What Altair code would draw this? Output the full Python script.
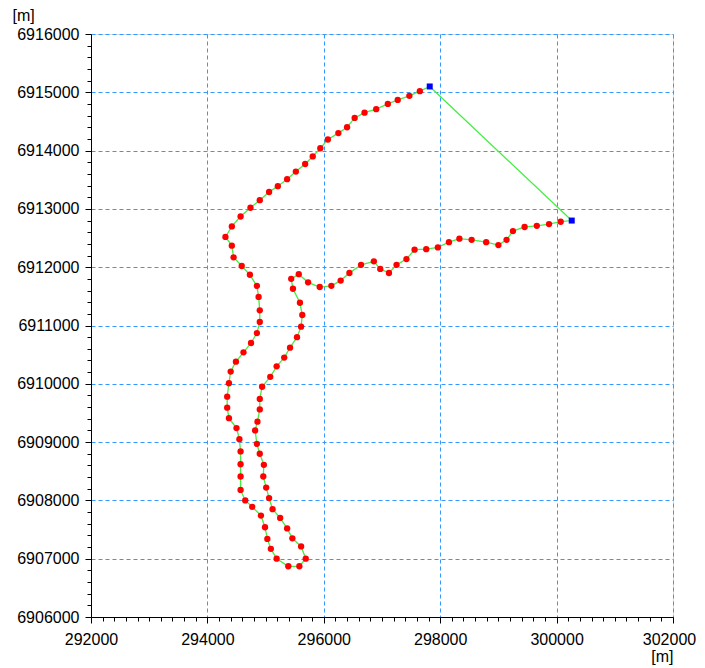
import altair as alt
import pandas as pd

xs = [297820, 297650, 297470, 297270, 297100, 296900, 296700, 296530, 296400, 296250,
      296070, 295940, 295810, 295680, 295520, 295370, 295210, 295060, 294900, 294740,
      294570, 294420, 294310, 294420, 294450, 294590, 294730, 294850, 294880, 294900,
      294900, 294850, 294750, 294620, 294490, 294400, 294370, 294340, 294340, 294370,
      294500, 294550, 294570, 294570, 294570, 294570, 294650, 294770, 294920, 294990,
      295030, 295090, 295190, 295390, 295580, 295690, 295610, 295460, 295370, 295250,
      295120, 295060, 295010, 294960, 294970, 294900, 294850, 294820, 294860, 294900,
      294900, 294940, 295080, 295190, 295320, 295420, 295540, 295610, 295630, 295590,
      295470, 295440, 295570, 295730, 295930, 296130, 296290, 296440, 296640, 296860,
      296970, 297120, 297250, 297420, 297560, 297760, 297960, 298150, 298330, 298540,
      298790, 299000, 299140, 299250, 299450, 299660, 299870, 300070, 300260]
ys = [6915100, 6915020, 6914940, 6914870, 6914800, 6914710, 6914650, 6914560, 6914400, 6914300,
      6914190, 6914040, 6913900, 6913770, 6913640, 6913510, 6913390, 6913290, 6913150, 6913020,
      6912870, 6912700, 6912520, 6912370, 6912170, 6912020, 6911870, 6911680, 6911490, 6911260,
      6911060, 6910870, 6910700, 6910540, 6910380, 6910210, 6910010, 6909780, 6909590, 6909410,
      6909240, 6909050, 6908840, 6908620, 6908410, 6908180, 6908000, 6907890, 6907740, 6907540,
      6907340, 6907170, 6907000, 6906870, 6906870, 6907000, 6907210, 6907350, 6907520, 6907700,
      6907850, 6908040, 6908220, 6908410, 6908610, 6908800, 6908970, 6909200, 6909350, 6909560,
      6909740, 6909950, 6910120, 6910300, 6910450, 6910620, 6910800, 6910980, 6911180, 6911390,
      6911630, 6911800, 6911880, 6911740, 6911660, 6911680, 6911770, 6911900, 6912040, 6912100,
      6911970, 6911900, 6912040, 6912140, 6912300, 6912310, 6912340, 6912430, 6912490, 6912470,
      6912430, 6912380, 6912470, 6912620, 6912690, 6912710, 6912740, 6912780, 6912800]

x_ticks = list(range(292000, 302001, 200))
y_ticks = list(range(6906000, 6916001, 200))

n = len(xs)
kinds = ["end" if i in (0, n - 1) else "mid" for i in range(n)]
pts = pd.DataFrame({"x": xs, "y": ys, "kind": kinds, "order": list(range(n))})
line_df = pd.concat([pts, pts.iloc[[0]].assign(order=n)], ignore_index=True)

FONT = "Liberation Sans"
FS = 16
W, H = 582, 583

xscale = alt.Scale(domain=[292000, 302000], nice=False, zero=False)
yscale = alt.Scale(domain=[6906000, 6916000], nice=False, zero=False)

xaxis = alt.Axis(
    values=x_ticks, tickCount=200, format="d",
    labelExpr="datum.value % 2000 === 0 ? datum.label : ''",
    labelFlush=False, labelOverlap=False, labelPadding=8,
    labelOffset={"condition": {"test": "datum.value === 302000", "value": -4}, "value": 0},
    labelFont=FONT, labelFontSize=FS, labelColor="black",
    tickSize={"condition": {"test": "datum.value % 2000 === 0", "value": 6}, "value": 4},
    tickColor="black", domainColor="black",
    grid=True,
    gridOpacity={"condition": {"test": "datum.value % 2000 === 0", "value": 1}, "value": 0},
    gridColor="#3399ff", gridDash=[4, 3], gridWidth=1,
    title="[m]", titleFont=FONT, titleFontSize=FS, titleFontWeight="normal",
    titleColor="black", titleAlign="right", titleAnchor="end",
    titleX=W, titleY=44, titleBaseline="alphabetic",
)
yaxis = alt.Axis(
    values=y_ticks, tickCount=200, format="d",
    labelExpr="datum.value % 1000 === 0 ? datum.label : ''",
    labelOverlap=False, labelFlush=False, labelPadding=6,
    labelFont=FONT, labelFontSize=FS, labelColor="black",
    tickSize={"condition": {"test": "datum.value % 1000 === 0", "value": 6}, "value": 4},
    tickColor="black", domainColor="black",
    grid=True,
    gridOpacity={"condition": {"test": "datum.value % 1000 === 0", "value": 1}, "value": 0},
    gridColor="#3399ff", gridDash=[4, 3], gridWidth=1,
    title="[m]", titleFont=FONT, titleFontSize=FS, titleFontWeight="normal",
    titleColor="black", titleAngle=0, titleAlign="left",
    titleX=-79, titleY=-14, titleBaseline="alphabetic",
)

base = alt.Chart(line_df)
line = base.mark_line(color="#44ee44", strokeWidth=1.3).encode(
    x=alt.X("x:Q", scale=xscale, axis=xaxis),
    y=alt.Y("y:Q", scale=yscale, axis=yaxis),
    order="order:Q",
)
dots = alt.Chart(pts).transform_filter("datum.kind === 'mid'").mark_point(
    shape="circle", filled=True, color="#ff0000", size=40, opacity=1
).encode(x="x:Q", y="y:Q")
ends = alt.Chart(pts).transform_filter("datum.kind === 'end'").mark_point(
    shape="square", filled=True, color="#0000ff", size=36, opacity=1
).encode(x="x:Q", y="y:Q")

chart = alt.layer(line, dots, ends).properties(
    width=W, height=H,
    autosize=alt.AutoSizeParams(type="none"),
    padding={"left": 83, "top": 26, "right": 24, "bottom": 50},
).configure_view(stroke="black", strokeWidth=1).configure(background="white")

chart.save("out.html", embed_options={"renderer": "svg", "actions": False})
